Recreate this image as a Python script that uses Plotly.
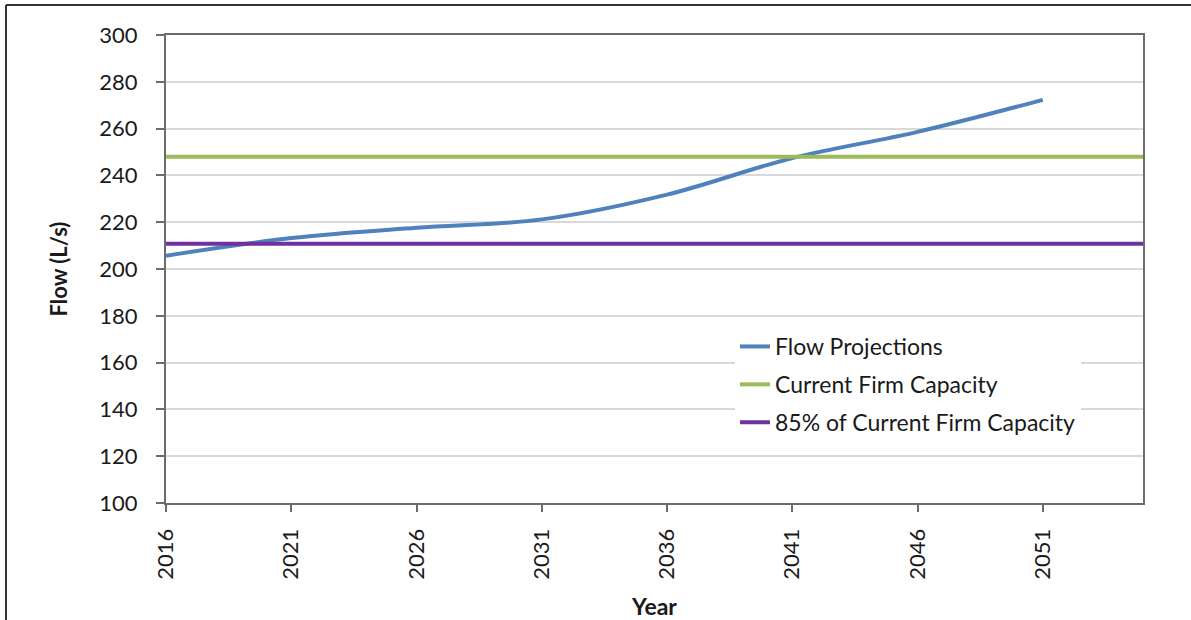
import plotly.graph_objects as go

# Projection years (every 5 years) and projected flow in L/s
proj_years = [2016, 2021, 2026, 2031, 2036, 2041, 2046, 2051]
flow_proj = [205.7, 213.2, 217.6, 221.2, 231.8, 247.4, 258.6, 272.3]

# Full planning horizon for the capacity reference lines
horizon_years = [2016, 2055]
firm_capacity = [248.0, 248.0]
capacity_85 = [round(0.85 * v, 1) for v in firm_capacity]

tick_years = [2016, 2021, 2026, 2031, 2036, 2041, 2046, 2051]
y_ticks = list(range(100, 301, 20))

FONT = "Lato, 'Open Sans', sans-serif"
TXT = "#1a1a1a"

fig = go.Figure()
fig.add_trace(go.Scatter(
    x=proj_years, y=flow_proj, mode="lines", name="Flow Projections",
    line=dict(color="#4F81BD", width=4, shape="spline", smoothing=1.0),
    legendgroup="a",
))
fig.add_trace(go.Scatter(
    x=horizon_years, y=firm_capacity, mode="lines", name="Current Firm Capacity",
    line=dict(color="#9BBB59", width=4),
    legendgroup="b",
))
fig.add_trace(go.Scatter(
    x=horizon_years, y=capacity_85, mode="lines", name="85% of Current Firm Capacity",
    line=dict(color="#7030A0", width=4),
    legendgroup="c",
))

L, R, T, B = 166, 48, 35, 117
W, H = 1191, 620
pw, ph = W - L - R, H - T - B

def px_x(p):
    return (p - L) / pw

def px_y(p):
    return (H - B - p) / ph

fig.update_layout(
    width=W, height=H,
    margin=dict(l=L, r=R, t=T, b=B, pad=0, autoexpand=False),
    paper_bgcolor="white", plot_bgcolor="white",
    font=dict(family=FONT, size=22, color=TXT),
    showlegend=True,
    legend=dict(
        x=px_x(735), y=px_y(325), xanchor="left", yanchor="top",
        bgcolor="white", borderwidth=0,
        font=dict(family=FONT, size=23, color=TXT),
        tracegroupgap=5, itemwidth=30,
    ),
    xaxis=dict(
        range=[2016, 2055], tickmode="array", tickvals=tick_years,
        ticktext=[str(y) for y in tick_years], tickangle=-90,
        showgrid=False, zeroline=False, automargin=False,
        showline=True, linecolor="#6b6b6b", linewidth=2, mirror=True,
        ticks="outside", ticklen=7, tickwidth=2, tickcolor="#6b6b6b",
        ticklabelstandoff=8,
        tickfont=dict(family=FONT, size=22, color=TXT),
        title=dict(text="<b>Year</b>", font=dict(family=FONT, size=23, color=TXT),
                   standoff=20),
    ),
    yaxis=dict(
        range=[100, 300], tickmode="array", tickvals=y_ticks,
        showgrid=True, gridcolor="#D9D9D9", gridwidth=2, zeroline=False,
        automargin=False,
        showline=True, linecolor="#6b6b6b", linewidth=2, mirror=True,
        ticks="outside", ticklen=8, tickwidth=2, tickcolor="#6b6b6b",
        ticklabelstandoff=14,
        tickfont=dict(family=FONT, size=22, color=TXT),
        title=dict(text="<b>Flow (L/s)</b>", font=dict(family=FONT, size=22, color=TXT),
                   standoff=26),
    ),
    shapes=[
        dict(type="line", xref="paper", yref="paper",
             x0=px_x(6), x1=px_x(1195), y0=px_y(5), y1=px_y(5),
             line=dict(color="#333333", width=2)),
        dict(type="line", xref="paper", yref="paper",
             x0=px_x(6), x1=px_x(6), y0=px_y(5), y1=px_y(625),
             line=dict(color="#333333", width=2)),
    ],
)

fig.write_html("out.html")
